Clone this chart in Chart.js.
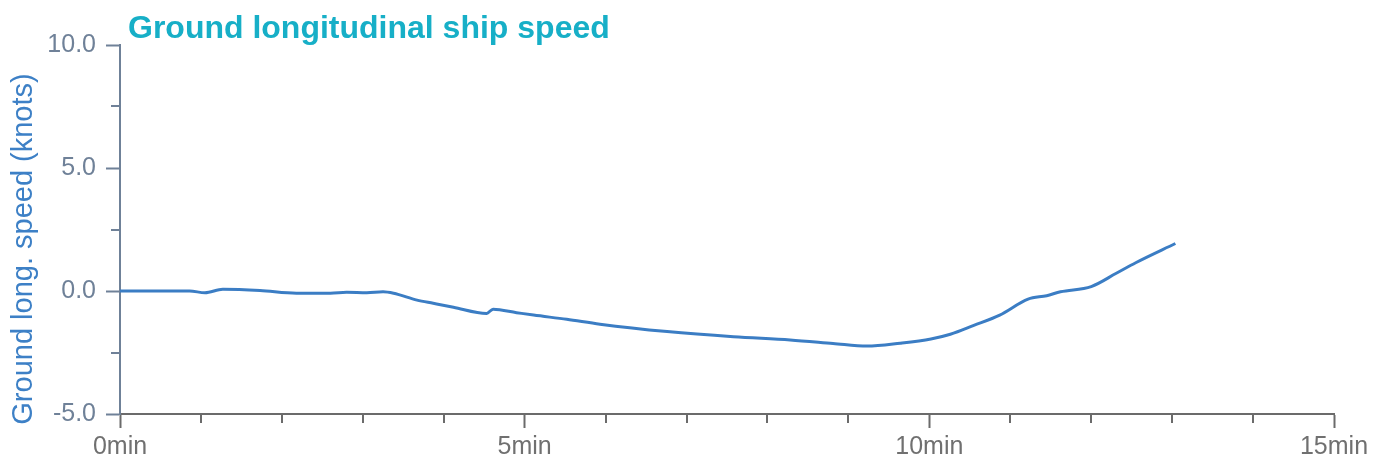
<!DOCTYPE html>
<html>
<head>
<meta charset="utf-8">
<script src="https://cdn.jsdelivr.net/npm/chart.js@4/dist/chart.umd.min.js"></script>
<style>
  html, body { margin: 0; padding: 0; background: #fff; }
  #wrap { width: 1384px; height: 465px; position: relative; }
</style>
</head>
<body>
<div id="wrap"><canvas id="speedChart"></canvas></div>
<script>
// ship speed over time
const timeMin = [0, 0.86, 1.05, 1.27, 1.73, 2.18, 2.6, 2.8, 3.05, 3.25, 3.38, 3.67, 3.87, 4.12,
  4.53, 4.61, 4.9, 5.11, 5.52, 5.93, 6.76, 7.58, 8.28, 8.81, 9.23, 9.64, 10.02, 10.26,
  10.55, 10.87, 11.22, 11.45, 11.62, 12.0, 12.31, 12.55, 13.04];
const speedKnots = [0, 0, -0.07, 0.07, 0.02, -0.09, -0.09, -0.05, -0.07, -0.03, -0.09, -0.37, -0.5, -0.66,
  -0.91, -0.74, -0.88, -0.98, -1.15, -1.35, -1.65, -1.86, -1.99, -2.13, -2.24, -2.12, -1.95, -1.76,
  -1.4, -0.98, -0.33, -0.19, -0.03, 0.18, 0.72, 1.15, 1.93];

const xTicks = [0, 5, 10, 15];       // labelled x ticks (min)
const yTicks = [-5, 0, 5, 10];       // labelled y ticks (knots)

const titleText = 'Ground longitudinal ship speed';
const yTitleText = 'Ground long. speed (knots)';

const FONT = '"Liberation Sans", Arial, Helvetica, sans-serif';
const yAxisColor = '#6f8198';
const xAxisColor = '#6b6b6b';
const lineColor = '#3b7dc4';

// minor ticks are shorter than the labelled ones
const minorTicks = {
  id: 'minorTicks',
  afterDraw(chart) {
    const { ctx, chartArea, scales } = chart;
    ctx.save();
    ctx.lineWidth = 2;
    ctx.strokeStyle = xAxisColor;
    scales.x.ticks.forEach(t => {
      if (xTicks.includes(t.value)) return;
      const px = Math.round(scales.x.getPixelForValue(t.value));
      ctx.beginPath();
      ctx.moveTo(px, chartArea.bottom);
      ctx.lineTo(px, chartArea.bottom + 9);
      ctx.stroke();
    });
    ctx.strokeStyle = yAxisColor;
    scales.y.ticks.forEach(t => {
      if (yTicks.includes(t.value)) return;
      const py = Math.round(scales.y.getPixelForValue(t.value));
      ctx.beginPath();
      ctx.moveTo(chartArea.left - 9, py);
      ctx.lineTo(chartArea.left, py);
      ctx.stroke();
    });
    ctx.restore();
  }
};

// chart title + rotated y title placed like the reference
const titles = {
  id: 'titles',
  afterDraw(chart) {
    const { ctx } = chart;
    ctx.save();
    ctx.fillStyle = '#17afc7';
    ctx.font = 'bold 32px ' + FONT;
    ctx.textAlign = 'left';
    ctx.textBaseline = 'alphabetic';
    ctx.fillText(titleText, 128, 38);

    ctx.translate(32, 249);
    ctx.rotate(-Math.PI / 2);
    ctx.fillStyle = '#3d80c6';
    ctx.font = '29px ' + FONT;
    ctx.textAlign = 'center';
    ctx.fillText(yTitleText, 0, 0);
    ctx.restore();
  }
};

new Chart(document.getElementById('speedChart'), {
  type: 'line',
  data: {
    datasets: [{
      data: timeMin.map((t, i) => ({ x: t, y: speedKnots[i] })),
      borderColor: lineColor,
      borderWidth: 3,
      pointRadius: 0,
      fill: false,
      cubicInterpolationMode: 'monotone',
    }],
  },
  options: {
    responsive: true,
    maintainAspectRatio: false,
    animation: false,
    layout: { padding: { top: 45, right: 50, left: 0, bottom: 0 } },
    plugins: {
      legend: { display: false },
      tooltip: { enabled: false },
      title: { display: false },
    },
    scales: {
      x: {
        type: 'linear',
        min: 0,
        max: 15,
        afterFit: (s) => { s.height = 51; },
        border: { color: xAxisColor, width: 2 },
        grid: {
          drawOnChartArea: false,
          tickLength: 14,
          tickWidth: 2,
          tickColor: (c) => xTicks.includes(c.tick.value) ? xAxisColor : 'rgba(0,0,0,0)',
        },
        ticks: {
          stepSize: 1,
          autoSkip: false,
          maxRotation: 0,
          padding: 4,
          color: '#707070',
          font: { family: FONT, size: 25 },
          callback: (v) => xTicks.includes(v) ? v + 'min' : '',
        },
      },
      y: {
        min: -5,
        max: 10,
        afterFit: (s) => { s.width = 120; },
        border: { color: yAxisColor, width: 2 },
        grid: {
          drawOnChartArea: false,
          tickLength: 14,
          tickWidth: 2,
          tickColor: (c) => yTicks.includes(c.tick.value) ? yAxisColor : 'rgba(0,0,0,0)',
        },
        ticks: {
          stepSize: 2.5,
          autoSkip: false,
          padding: 10,
          color: yAxisColor,
          font: { family: FONT, size: 25 },
          callback: (v) => yTicks.includes(v) ? v.toFixed(1) : '',
        },
      },
    },
  },
  plugins: [minorTicks, titles],
});
</script>
</body>
</html>
